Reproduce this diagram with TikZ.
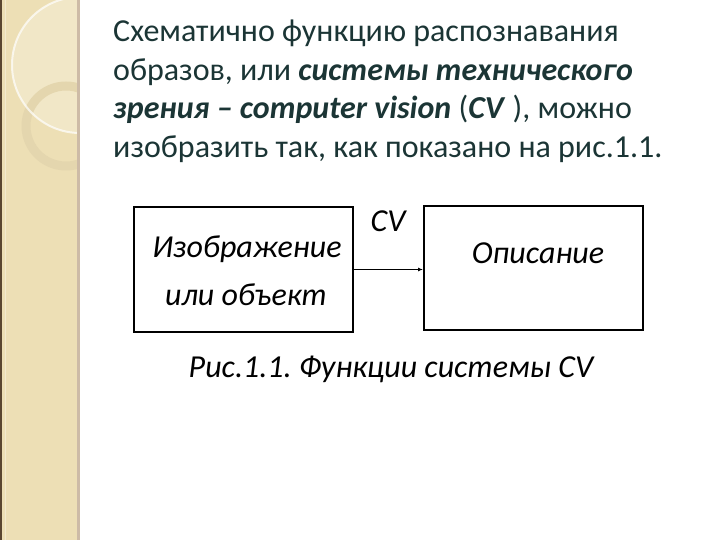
\documentclass[tikz,border=0pt]{standalone}
\usepackage{fontspec}
\setmainfont{Carlito}
\usetikzlibrary{arrows.meta}
\definecolor{stripbg}{HTML}{EDDFB5}
\definecolor{stripedge}{HTML}{CDBBA6}
\definecolor{stripdark}{HTML}{5A4630}
\definecolor{ringcol}{HTML}{E4D6AE}
\definecolor{headcol}{HTML}{1B3535}
\tikzset{
  headline/.style={anchor=base west, inner sep=0pt, text=headcol, font=\fontsize{32}{38}\selectfont},
  box/.style={draw=black, line width=2pt, minimum width=219pt, inner sep=0pt},
  dtext/.style={anchor=base, inner sep=0pt, font=\fontsize{32}{38}\selectfont\itshape},
  arr/.style={-{Latex[length=5pt,width=4pt]}, line width=1.3pt}
}
\frenchspacing
\begin{document}
\begin{tikzpicture}[x=1pt,y=-1pt]
\useasboundingbox (0,0) rectangle (720,540);
\fill[white] (0,0) rectangle (720,540);
% left decorative strip
\begin{scope}
\clip (0,0) rectangle (79,540);
\fill[stripbg] (0,0) rectangle (79,540);
\fill[white, opacity=0.25] (80,65) circle (68);
\draw[ringcol, line width=9pt] (66,126) circle (40);
\draw[white, opacity=0.7, line width=2pt] (80,65) circle (68);
\draw[white, opacity=0.35, line width=1pt] (5,0) -- (5,540);
\end{scope}
\fill[stripdark] (0,0) rectangle (1.5,540);
\fill[stripedge] (77,0) rectangle (80,540);
% heading text
\node[headline] (l1) at (113,42) {Схематично функцию распознавания};
\node[headline] (l2) at (113,80.5) {образов, или \textbf{\textit{системы технического}}};
\node[headline] (l3) at (113,119) {\textbf{\textit{зрения – computer vision}} (\textbf{\textit{CV}} ), можно};
\node[headline] (l4) at (113,157.5) {изобразить так, как показано на рис.1.1.};
% diagram
\node[box, minimum height=125pt] (img) at (243.5,269.5) {};
\node[box, minimum height=123pt] (desc) at (533.5,268) {};
\draw[arr] (img.east) -- (img.east -| desc.west);
\node[dtext] (t1) at (247,257) {Изображение};
\node[dtext] (t2) at (246,305) {или объект};
\node[dtext] (t3) at (538,263) {Описание};
\node[dtext] (cv) at (388,232) {CV};
\node[dtext] (cap) at (391,377) {Рис.1.1. Функции системы CV};
\end{tikzpicture}
\end{document}
